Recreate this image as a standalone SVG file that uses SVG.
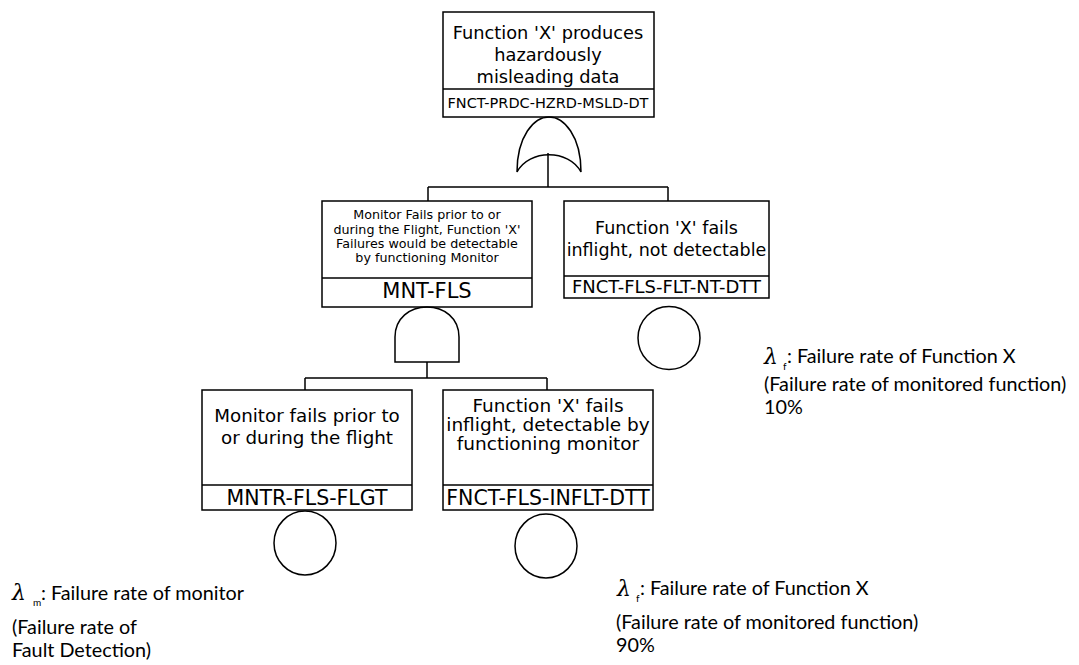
<svg xmlns="http://www.w3.org/2000/svg" width="1079" height="665" viewBox="0 0 1079 665">
<style>
.box{fill:#fff;stroke:#000;stroke-width:1.5}
.ln{fill:none;stroke:#000;stroke-width:1.5}
.t{font-family:"DejaVu Sans",Verdana,sans-serif;fill:#000;text-anchor:middle}
.a{font-family:Lato,"Liberation Sans",sans-serif;fill:#000;font-size:19.8px}
.lam{font-family:"DejaVu Serif","Liberation Serif",serif;font-style:italic;font-size:22px;fill:#000}
.sub{font-family:Lato,"Liberation Sans",sans-serif;font-size:10px;fill:#000}
</style>
<rect width="1079" height="665" fill="#fff"/>
<g id="connectors">
<path class="ln" d="M548,153 V187 M428,187 H668 M428,187 V201 M668,187 V201"/>
<path class="ln" d="M427,362 V378 M305,378 H547 M305,378 V390 M547,378 V390"/>
</g>
<g id="top">
<rect class="box" x="443" y="12" width="211" height="105"/>
<line class="ln" x1="443" y1="89" x2="654" y2="89"/>
<text class="t" font-size="17.8"><tspan x="548" y="39">Function 'X' produces</tspan><tspan x="548" y="61">hazardously</tspan><tspan x="548" y="83">misleading data</tspan></text>
<text class="t" x="548" y="108" font-size="14.5">FNCT-PRDC-HZRD-MSLD-DT</text>
</g>
<g id="or-gate">
<path class="ln" d="M517,172 C517,136 534,117 549,117 C564,117 581,136 581,172 C569,149 529,149 517,172 Z"/>
</g>
<g id="mnt-fls">
<rect class="box" x="322" y="201" width="210" height="106"/>
<line class="ln" x1="322" y1="278" x2="532" y2="278"/>
<text class="t" font-size="12.7"><tspan x="427" y="219">Monitor Fails prior to or</tspan><tspan x="427" y="234">during the Flight, Function 'X'</tspan><tspan x="427" y="248">Failures would be detectable</tspan><tspan x="427" y="262">by functioning Monitor</tspan></text>
<text class="t" x="427" y="298" font-size="21">MNT-FLS</text>
</g>
<g id="and-gate">
<path class="ln" d="M395,362 V337 C395,318 410,307 427,307 C444,307 459,318 459,337 V362 Z"/>
</g>
<g id="fnct-fls-flt-nt-dtt">
<rect class="box" x="564" y="201" width="205" height="97"/>
<line class="ln" x1="564" y1="276" x2="769" y2="276"/>
<text class="t" font-size="17.5"><tspan x="666.5" y="234">Function 'X' fails</tspan><tspan x="666.5" y="256">inflight, not detectable</tspan></text>
<text class="t" x="666.5" y="293" font-size="18">FNCT-FLS-FLT-NT-DTT</text>
<ellipse class="ln" cx="669" cy="338" rx="31" ry="31.5"/>
</g>
<g id="mntr-fls-flgt">
<rect class="box" x="202" y="390" width="210" height="120"/>
<line class="ln" x1="202" y1="485" x2="412" y2="485"/>
<text class="t" font-size="18.3"><tspan x="307" y="422">Monitor fails prior to</tspan><tspan x="307" y="444">or during the flight</tspan></text>
<text class="t" x="307" y="505" font-size="20.5">MNTR-FLS-FLGT</text>
<ellipse class="ln" cx="305" cy="543" rx="31" ry="32"/>
</g>
<g id="fnct-fls-inflt-dtt">
<rect class="box" x="443" y="390" width="210" height="120"/>
<line class="ln" x1="443" y1="485" x2="653" y2="485"/>
<text class="t" font-size="18.5"><tspan x="548" y="412">Function 'X' fails</tspan><tspan x="548" y="431">inflight, detectable by</tspan><tspan x="548" y="450">functioning monitor</tspan></text>
<text class="t" x="548" y="505" font-size="20.5">FNCT-FLS-INFLT-DTT</text>
<ellipse class="ln" cx="546" cy="546" rx="31" ry="32"/>
</g>
<g id="note-right">
<text class="lam" x="764" y="364">λ</text><text class="sub" x="783" y="370">f</text>
<text class="a" x="787" y="363">: Failure rate of Function X</text>
<text class="a" x="764" y="391">(Failure rate of monitored function)</text>
<text class="a" x="764" y="414">10%</text>
</g>
<g id="note-bottom-right">
<text class="lam" x="617" y="596">λ</text><text class="sub" x="636" y="602">f</text>
<text class="a" x="640" y="595">: Failure rate of Function X</text>
<text class="a" x="616" y="629">(Failure rate of monitored function)</text>
<text class="a" x="616" y="652">90%</text>
</g>
<g id="note-left">
<text class="lam" x="12" y="600">λ</text><text class="sub" x="33" y="606">m</text>
<text class="a" x="41" y="600">: Failure rate of monitor</text>
<text class="a" x="12" y="634">(Failure rate of</text>
<text class="a" x="12" y="657">Fault Detection)</text>
</g>
</svg>
